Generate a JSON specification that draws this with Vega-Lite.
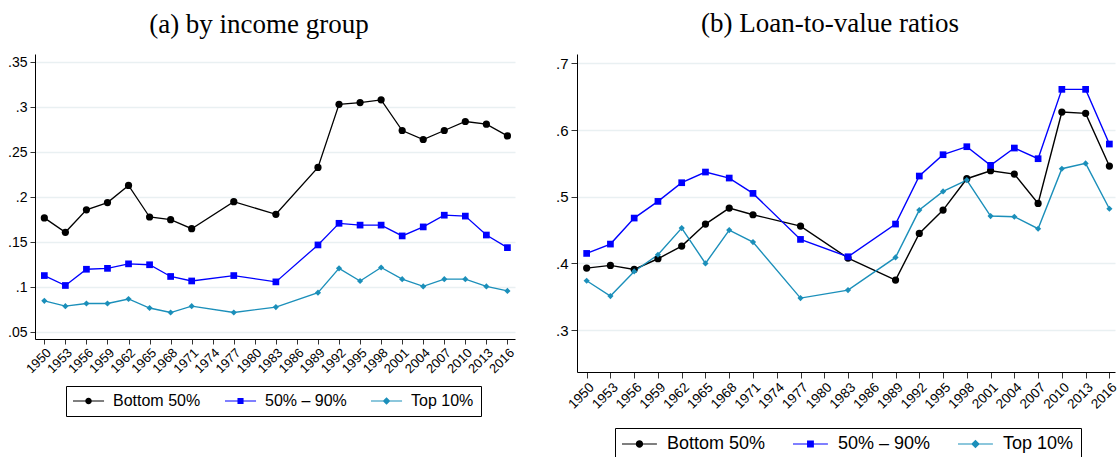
{
  "$schema": "https://vega.github.io/schema/vega-lite/v6.json",
  "background": "white",
  "padding": {"left": 7, "top": 10, "right": 0, "bottom": 0},
  "bounds": "flush",
  "spacing": 62,
  "config": {"view": {"stroke": null}},
  "resolve": {"scale": {"color": "independent", "shape": "independent", "x": "independent", "y": "independent"}, "legend": {"shape": "independent", "color": "independent"}},
  "datasets": {
    "income": [
      {"year": 1950, "group": "Bottom 50%", "value": 0.177}, {"year": 1953, "group": "Bottom 50%", "value": 0.161}, {"year": 1956, "group": "Bottom 50%", "value": 0.186}, {"year": 1959, "group": "Bottom 50%", "value": 0.194}, {"year": 1962, "group": "Bottom 50%", "value": 0.213}, {"year": 1965, "group": "Bottom 50%", "value": 0.178}, {"year": 1968, "group": "Bottom 50%", "value": 0.175}, {"year": 1971, "group": "Bottom 50%", "value": 0.165}, {"year": 1977, "group": "Bottom 50%", "value": 0.195}, {"year": 1983, "group": "Bottom 50%", "value": 0.181}, {"year": 1989, "group": "Bottom 50%", "value": 0.233}, {"year": 1992, "group": "Bottom 50%", "value": 0.303}, {"year": 1995, "group": "Bottom 50%", "value": 0.305}, {"year": 1998, "group": "Bottom 50%", "value": 0.308}, {"year": 2001, "group": "Bottom 50%", "value": 0.274}, {"year": 2004, "group": "Bottom 50%", "value": 0.264}, {"year": 2007, "group": "Bottom 50%", "value": 0.274}, {"year": 2010, "group": "Bottom 50%", "value": 0.284}, {"year": 2013, "group": "Bottom 50%", "value": 0.281}, {"year": 2016, "group": "Bottom 50%", "value": 0.268},
      {"year": 1950, "group": "50% – 90%", "value": 0.113}, {"year": 1953, "group": "50% – 90%", "value": 0.102}, {"year": 1956, "group": "50% – 90%", "value": 0.120}, {"year": 1959, "group": "50% – 90%", "value": 0.121}, {"year": 1962, "group": "50% – 90%", "value": 0.126}, {"year": 1965, "group": "50% – 90%", "value": 0.125}, {"year": 1968, "group": "50% – 90%", "value": 0.112}, {"year": 1971, "group": "50% – 90%", "value": 0.107}, {"year": 1977, "group": "50% – 90%", "value": 0.113}, {"year": 1983, "group": "50% – 90%", "value": 0.106}, {"year": 1989, "group": "50% – 90%", "value": 0.147}, {"year": 1992, "group": "50% – 90%", "value": 0.171}, {"year": 1995, "group": "50% – 90%", "value": 0.169}, {"year": 1998, "group": "50% – 90%", "value": 0.169}, {"year": 2001, "group": "50% – 90%", "value": 0.157}, {"year": 2004, "group": "50% – 90%", "value": 0.167}, {"year": 2007, "group": "50% – 90%", "value": 0.180}, {"year": 2010, "group": "50% – 90%", "value": 0.179}, {"year": 2013, "group": "50% – 90%", "value": 0.158}, {"year": 2016, "group": "50% – 90%", "value": 0.144},
      {"year": 1950, "group": "Top 10%", "value": 0.085}, {"year": 1953, "group": "Top 10%", "value": 0.079}, {"year": 1956, "group": "Top 10%", "value": 0.082}, {"year": 1959, "group": "Top 10%", "value": 0.082}, {"year": 1962, "group": "Top 10%", "value": 0.087}, {"year": 1965, "group": "Top 10%", "value": 0.077}, {"year": 1968, "group": "Top 10%", "value": 0.072}, {"year": 1971, "group": "Top 10%", "value": 0.079}, {"year": 1977, "group": "Top 10%", "value": 0.072}, {"year": 1983, "group": "Top 10%", "value": 0.078}, {"year": 1989, "group": "Top 10%", "value": 0.094}, {"year": 1992, "group": "Top 10%", "value": 0.121}, {"year": 1995, "group": "Top 10%", "value": 0.107}, {"year": 1998, "group": "Top 10%", "value": 0.122}, {"year": 2001, "group": "Top 10%", "value": 0.109}, {"year": 2004, "group": "Top 10%", "value": 0.101}, {"year": 2007, "group": "Top 10%", "value": 0.109}, {"year": 2010, "group": "Top 10%", "value": 0.109}, {"year": 2013, "group": "Top 10%", "value": 0.101}, {"year": 2016, "group": "Top 10%", "value": 0.096}
    ],
    "ltv": [
      {"year": 1950, "group": "Bottom 50%", "value": 0.393}, {"year": 1953, "group": "Bottom 50%", "value": 0.397}, {"year": 1956, "group": "Bottom 50%", "value": 0.391}, {"year": 1959, "group": "Bottom 50%", "value": 0.407}, {"year": 1962, "group": "Bottom 50%", "value": 0.426}, {"year": 1965, "group": "Bottom 50%", "value": 0.459}, {"year": 1968, "group": "Bottom 50%", "value": 0.483}, {"year": 1971, "group": "Bottom 50%", "value": 0.473}, {"year": 1977, "group": "Bottom 50%", "value": 0.456}, {"year": 1983, "group": "Bottom 50%", "value": 0.408}, {"year": 1989, "group": "Bottom 50%", "value": 0.375}, {"year": 1992, "group": "Bottom 50%", "value": 0.445}, {"year": 1995, "group": "Bottom 50%", "value": 0.480}, {"year": 1998, "group": "Bottom 50%", "value": 0.527}, {"year": 2001, "group": "Bottom 50%", "value": 0.539}, {"year": 2004, "group": "Bottom 50%", "value": 0.534}, {"year": 2007, "group": "Bottom 50%", "value": 0.490}, {"year": 2010, "group": "Bottom 50%", "value": 0.627}, {"year": 2013, "group": "Bottom 50%", "value": 0.625}, {"year": 2016, "group": "Bottom 50%", "value": 0.546},
      {"year": 1950, "group": "50% – 90%", "value": 0.415}, {"year": 1953, "group": "50% – 90%", "value": 0.429}, {"year": 1956, "group": "50% – 90%", "value": 0.468}, {"year": 1959, "group": "50% – 90%", "value": 0.493}, {"year": 1962, "group": "50% – 90%", "value": 0.521}, {"year": 1965, "group": "50% – 90%", "value": 0.537}, {"year": 1968, "group": "50% – 90%", "value": 0.528}, {"year": 1971, "group": "50% – 90%", "value": 0.505}, {"year": 1977, "group": "50% – 90%", "value": 0.436}, {"year": 1983, "group": "50% – 90%", "value": 0.410}, {"year": 1989, "group": "50% – 90%", "value": 0.459}, {"year": 1992, "group": "50% – 90%", "value": 0.531}, {"year": 1995, "group": "50% – 90%", "value": 0.563}, {"year": 1998, "group": "50% – 90%", "value": 0.575}, {"year": 2001, "group": "50% – 90%", "value": 0.547}, {"year": 2004, "group": "50% – 90%", "value": 0.573}, {"year": 2007, "group": "50% – 90%", "value": 0.557}, {"year": 2010, "group": "50% – 90%", "value": 0.661}, {"year": 2013, "group": "50% – 90%", "value": 0.661}, {"year": 2016, "group": "50% – 90%", "value": 0.579},
      {"year": 1950, "group": "Top 10%", "value": 0.374}, {"year": 1953, "group": "Top 10%", "value": 0.351}, {"year": 1956, "group": "Top 10%", "value": 0.388}, {"year": 1959, "group": "Top 10%", "value": 0.413}, {"year": 1962, "group": "Top 10%", "value": 0.453}, {"year": 1965, "group": "Top 10%", "value": 0.400}, {"year": 1968, "group": "Top 10%", "value": 0.450}, {"year": 1971, "group": "Top 10%", "value": 0.432}, {"year": 1977, "group": "Top 10%", "value": 0.348}, {"year": 1983, "group": "Top 10%", "value": 0.360}, {"year": 1989, "group": "Top 10%", "value": 0.409}, {"year": 1992, "group": "Top 10%", "value": 0.480}, {"year": 1995, "group": "Top 10%", "value": 0.508}, {"year": 1998, "group": "Top 10%", "value": 0.525}, {"year": 2001, "group": "Top 10%", "value": 0.471}, {"year": 2004, "group": "Top 10%", "value": 0.470}, {"year": 2007, "group": "Top 10%", "value": 0.452}, {"year": 2010, "group": "Top 10%", "value": 0.542}, {"year": 2013, "group": "Top 10%", "value": 0.550}, {"year": 2016, "group": "Top 10%", "value": 0.482}
    ]
  },
  "hconcat": [
    {
      "width": 480,
      "height": 285,
      "title": {"text": "(a) by income group", "font": "Liberation Serif", "fontSize": 27, "fontWeight": "normal", "color": "black", "anchor": "middle", "dx": -16, "offset": 15},
      "data": {"name": "income"},
      "resolve": {"scale": {"shape": "independent", "color": "independent"}, "legend": {"shape": "independent", "color": "independent"}},
      "encoding": {
        "x": {"field": "year", "type": "quantitative", "scale": {"domain": [1948.67, 2017.08], "nice": false, "zero": false},
          "axis": {"values": [1950,1953,1956,1959,1962,1965,1968,1971,1974,1977,1980,1983,1986,1989,1992,1995,1998,2001,2004,2007,2010,2013,2016], "format": "d", "labelAngle": -45, "labelOverlap": false, "title": null, "grid": false, "tickSize": 5, "labelFontSize": 13, "labelFont": "Liberation Sans", "labelColor": "black", "domainColor": "black", "tickColor": "#333333", "labelPadding": 2}},
        "y": {"field": "value", "type": "quantitative", "scale": {"domain": [0.0426, 0.3589], "nice": false, "zero": false},
          "axis": {"values": [0.05, 0.1, 0.15, 0.2, 0.25, 0.3, 0.35], "labelExpr": "replace(format(datum.value,'.2~f'),'0.','.')", "title": null, "grid": true, "gridColor": "#e9f0f2", "gridWidth": 1.5, "tickSize": 5, "labelFontSize": 14, "labelFont": "Liberation Sans", "labelColor": "black", "domainColor": "black", "tickColor": "#333333", "labelPadding": 3}}
      },
      "layer": [
        {"mark": {"type": "line", "strokeWidth": 1.3},
         "encoding": {"color": {"field": "group", "type": "nominal", "scale": {"domain": ["Bottom 50%", "50% – 90%", "Top 10%"], "range": ["black", "blue", "#1b8fba"]}, "legend": null}}},
        {"mark": {"type": "point", "filled": true, "opacity": 1},
         "encoding": {
           "color": {"field": "group", "type": "nominal", "scale": {"domain": ["Bottom 50%", "50% – 90%", "Top 10%"], "range": ["black", "blue", "#1b8fba"]}, "legend": null},
           "shape": {"field": "group", "type": "nominal", "scale": {"domain": ["Bottom 50%", "50% – 90%", "Top 10%"], "range": ["circle", "square", "diamond"]}, "legend": null},
           "size": {"field": "group", "type": "nominal", "scale": {"domain": ["Bottom 50%", "50% – 90%", "Top 10%"], "range": [52, 38, 56]}, "legend": null}
         }},
        {"mark": {"type": "point", "filled": true, "opacity": 0},
         "encoding": {
           "color": {"field": "group", "type": "nominal", "scale": {"domain": ["Bottom 50%", "50% – 90%", "Top 10%"], "range": ["black", "blue", "#1b8fba"]},
             "legend": {"orient": "none", "legendX": 31, "legendY": 332, "direction": "horizontal", "columns": 3, "title": null, "strokeColor": "black", "fillColor": "white", "padding": 7, "labelFont": "Liberation Sans", "labelFontSize": 16, "labelColor": "black", "symbolSize": 256, "symbolStrokeWidth": 0, "symbolOpacity": 1, "columnPadding": 24, "labelOffset": 24}},
           "shape": {"field": "group", "type": "nominal", "scale": {"domain": ["Bottom 50%", "50% – 90%", "Top 10%"], "range": ["M-1,-0.068L2.88,-0.068L2.88,0.068L-1,0.068ZM0.53,0A0.41,0.41,0,1,1,1.35,0A0.41,0.41,0,1,1,0.53,0Z", "M-1,-0.068L2.88,-0.068L2.88,0.068L-1,0.068ZM0.56,-0.38L1.32,-0.38L1.32,0.38L0.56,0.38Z", "M-1,-0.068L2.88,-0.068L2.88,0.068L-1,0.068ZM0.94,-0.48L1.42,0L0.94,0.48L0.46,0Z"]},
             "legend": {"orient": "none", "legendX": 31, "legendY": 332, "direction": "horizontal", "columns": 3, "title": null, "strokeColor": "black", "fillColor": "white", "padding": 7, "labelFont": "Liberation Sans", "labelFontSize": 16, "labelColor": "black", "symbolSize": 256, "symbolStrokeWidth": 0, "symbolOpacity": 1, "columnPadding": 24, "labelOffset": 24}}
         }}
      ]
    },
    {
      "width": 538,
      "height": 318,
      "title": {"text": "(b) Loan-to-value ratios", "font": "Liberation Serif", "fontSize": 27, "fontWeight": "normal", "color": "black", "anchor": "middle", "dx": -16, "offset": 16},
      "data": {"name": "ltv"},
      "resolve": {"scale": {"shape": "independent", "color": "independent"}, "legend": {"shape": "independent", "color": "independent"}},
      "encoding": {
        "x": {"field": "year", "type": "quantitative", "scale": {"domain": [1948.78, 2016.71], "nice": false, "zero": false},
          "axis": {"values": [1950,1953,1956,1959,1962,1965,1968,1971,1974,1977,1980,1983,1986,1989,1992,1995,1998,2001,2004,2007,2010,2013,2016], "format": "d", "labelAngle": -45, "labelOverlap": false, "title": null, "grid": false, "tickSize": 6, "labelFontSize": 13.5, "labelFont": "Liberation Sans", "labelColor": "black", "domainColor": "black", "tickColor": "#333333", "labelPadding": 2}},
        "y": {"field": "value", "type": "quantitative", "scale": {"domain": [0.2372, 0.714], "nice": false, "zero": false},
          "axis": {"values": [0.3, 0.4, 0.5, 0.6, 0.7], "labelExpr": "replace(format(datum.value,'.1~f'),'0.','.')", "title": null, "grid": true, "gridColor": "#e9f0f2", "gridWidth": 1.6, "tickSize": 6, "labelFontSize": 15, "labelFont": "Liberation Sans", "labelColor": "black", "domainColor": "black", "tickColor": "#333333", "labelPadding": 3}}
      },
      "layer": [
        {"mark": {"type": "line", "strokeWidth": 1.4},
         "encoding": {"color": {"field": "group", "type": "nominal", "scale": {"domain": ["Bottom 50%", "50% – 90%", "Top 10%"], "range": ["black", "blue", "#1b8fba"]}, "legend": null}}},
        {"mark": {"type": "point", "filled": true, "opacity": 1},
         "encoding": {
           "color": {"field": "group", "type": "nominal", "scale": {"domain": ["Bottom 50%", "50% – 90%", "Top 10%"], "range": ["black", "blue", "#1b8fba"]}, "legend": null},
           "shape": {"field": "group", "type": "nominal", "scale": {"domain": ["Bottom 50%", "50% – 90%", "Top 10%"], "range": ["circle", "square", "diamond"]}, "legend": null},
           "size": {"field": "group", "type": "nominal", "scale": {"domain": ["Bottom 50%", "50% – 90%", "Top 10%"], "range": [64, 46, 70]}, "legend": null}
         }},
        {"mark": {"type": "point", "filled": true, "opacity": 0},
         "encoding": {
           "color": {"field": "group", "type": "nominal", "scale": {"domain": ["Bottom 50%", "50% – 90%", "Top 10%"], "range": ["black", "blue", "#1b8fba"]},
             "legend": {"orient": "none", "legendX": 38, "legendY": 374, "direction": "horizontal", "columns": 3, "title": null, "strokeColor": "black", "fillColor": "white", "padding": 7, "labelFont": "Liberation Sans", "labelFontSize": 18, "labelColor": "black", "symbolSize": 324, "symbolStrokeWidth": 0, "symbolOpacity": 1, "columnPadding": 27, "labelOffset": 27}},
           "shape": {"field": "group", "type": "nominal", "scale": {"domain": ["Bottom 50%", "50% – 90%", "Top 10%"], "range": ["M-1,-0.068L2.88,-0.068L2.88,0.068L-1,0.068ZM0.53,0A0.41,0.41,0,1,1,1.35,0A0.41,0.41,0,1,1,0.53,0Z", "M-1,-0.068L2.88,-0.068L2.88,0.068L-1,0.068ZM0.56,-0.38L1.32,-0.38L1.32,0.38L0.56,0.38Z", "M-1,-0.068L2.88,-0.068L2.88,0.068L-1,0.068ZM0.94,-0.48L1.42,0L0.94,0.48L0.46,0Z"]},
             "legend": {"orient": "none", "legendX": 38, "legendY": 374, "direction": "horizontal", "columns": 3, "title": null, "strokeColor": "black", "fillColor": "white", "padding": 7, "labelFont": "Liberation Sans", "labelFontSize": 18, "labelColor": "black", "symbolSize": 324, "symbolStrokeWidth": 0, "symbolOpacity": 1, "columnPadding": 27, "labelOffset": 27}}
         }}
      ]
    }
  ]
}
